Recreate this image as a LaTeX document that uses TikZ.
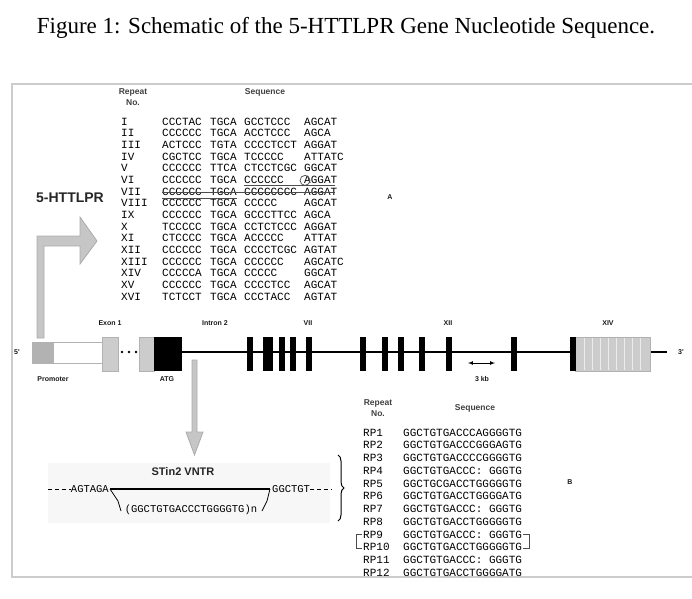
\documentclass[tikz,border=0pt]{standalone}
\usepackage{fontspec}
\setmainfont{Liberation Serif}
\newfontfamily\labf{Liberation Sans}
\newfontfamily\seqf{Liberation Mono}
\usetikzlibrary{decorations.pathreplacing}

\tikzset{
	lbl/.style={font=\labf\bfseries\fontsize{7}{8}\selectfont,text=black!90,inner sep=0pt},
	hdr/.style={font=\labf\bfseries\fontsize{8.5}{11}\selectfont,text=black!75,inner sep=0pt,align=center},
	seqtxt/.style={font=\seqf\fontsize{11}{12}\selectfont,text=black,inner sep=0pt,anchor=west,text height=6.5pt,text depth=0pt},
	vntrtxt/.style={font=\seqf\fontsize{10.5}{12}\selectfont,text=black,inner sep=0pt},
	bigarrow/.style={fill=gray!45,draw=gray!65,line width=0.8pt},
	frameline/.style={draw=gray!40,line width=1.5pt}
}

\begin{document}
\begin{tikzpicture}[x=1pt,y=-1pt,>=latex]
\useasboundingbox (0,0) rectangle (692,598);
\node (title) at (346,28) {\fontsize{23}{26}\selectfont Figure 1: Schematic of the 5-HTTLPR Gene Nucleotide Sequence.};
\draw[frameline] (692,84)--(12,84)--(12,577)--(692,577);

\node[hdr] (repA) at (133,97) {Repeat\\No.};
\node[hdr] (seqA) at (265,92) {Sequence};
\foreach \rn/\ca/\cb/\cc/\cd [count=\i] in {I/CCCTAC/TGCA/GCCTCCC/AGCAT,II/CCCCCC/TGCA/ACCTCCC/AGCA,
	III/ACTCCC/TGTA/CCCCTCCT/AGGAT,IV/CGCTCC/TGCA/TCCCCC/ATTATC,V/CCCCCC/TTCA/CTCCTCGC/GGCAT,
	VI/CCCCCC/TGCA/CCCCCC/AGGAT,VII/CCCCCC/TGCA/CCCCCCCC/AGGAT,VIII/CCCCCC/TGCA/CCCCC/AGCAT,
	IX/CCCCCC/TGCA/GCCCTTCC/AGCA,X/TCCCCC/TGCA/CCTCTCCC/AGGAT,XI/CTCCCC/TGCA/ACCCCC/ATTAT,
	XII/CCCCCC/TGCA/CCCCTCGC/AGTAT,XIII/CCCCCC/TGCA/CCCCCC/AGCATC,XIV/CCCCCA/TGCA/CCCCC/GGCAT,
	XV/CCCCCC/TGCA/CCCCTCC/AGCAT,XVI/TCTCCT/TGCA/CCCTACC/AGTAT}{
	\node[seqtxt] (num\i) at (121,{110.33+11.67*\i}) {\rn};
	\node[seqtxt] (ca\i) at (162,{110.33+11.67*\i}) {\ca};
	\node[seqtxt] (cb\i) at (210,{110.33+11.67*\i}) {\cb};
	\node[seqtxt] (cc\i) at (244,{110.33+11.67*\i}) {\cc};
	\node[seqtxt] (cd\i) at (304,{110.33+11.67*\i}) {\cd};
}
\draw[black!70,line width=0.7pt] ([yshift=-1.5pt]cc6.south west)--([xshift=-2pt,yshift=-1.5pt]cd6.south east);
\draw[black!70,line width=0.7pt] (ca7.west)--([xshift=-2pt]cd7.east);
\draw[black!70,line width=0.7pt] ([yshift=1.5pt]ca8.north west)--([yshift=1.5pt]cb8.north east);
\draw[black!70,line width=0.7pt] ([xshift=1pt]cd6.west) circle[radius=5];

\node[font=\labf\bfseries\fontsize{14}{15}\selectfont,text=black!85] (httlpr) at (70,198) {5-HTTLPR};
\node[lbl] (labA) at (390,197) {A};
\draw[bigarrow] (37,338)--(37,236)--(80,236)--(80,217)--(97,241)--(80,264)--(80,246)--(44,246)--(44,338)--cycle;

\node[lbl] (five) at (17,352) {5'};
\node[lbl] (three) at (681,352) {3'};
\draw[gray!60,line width=0.8pt] (32,342) rectangle (102,363);
\fill[gray!60] (32,342) rectangle (54,363);
\draw[fill=gray!40,draw=gray!60,line width=0.6pt] (102,337) rectangle (118,371);
\foreach \dx in {122,129,136}
	\fill (\dx,352) circle[radius=1.4];
\draw[fill=gray!40,draw=gray!60,line width=0.6pt] (139,337) rectangle (154,371);
\fill (154,337) rectangle (182,371);
\draw[line width=2.5pt] (182,352)--(667,352);
\foreach \cx/\w in {250/6,268/10,282/6,293/6,309/6,363/6,384.5/6,401/6,422/6,449/6,514/6}
	\fill (\cx-\w/2,337) rectangle (\cx+\w/2,371);
\fill[gray!40] (575,337) rectangle (650,371);
\foreach \sx in {584,592,...,644}
	\draw[gray!15,line width=0.8pt] (\sx,338)--(\sx,370);
\draw[gray!60,line width=0.6pt] (575,337) rectangle (650,371);
\fill (570,337) rectangle (576,371);

\node[lbl] (exon) at (110,323) {Exon 1};
\node[lbl] (intron) at (215,323) {Intron 2};
\node[lbl] (vii) at (308,323) {VII};
\node[lbl] (xii) at (448,323) {XII};
\node[lbl] (xiv) at (608,323) {XIV};
\node[lbl] (prom) at (53,379) {Promoter};
\node[lbl] (atg) at (167,379) {ATG};
\node[lbl] (kb) at (482,379) {3 kb};
\draw[<->,line width=0.7pt] (468,363)--(495,363);

\draw[bigarrow] (192,360)--(192,432)--(186,432)--(194.5,455)--(203,432)--(197,432)--(197,360)--cycle;

\fill[gray!6] (48,463) rectangle (330,523);
\node[font=\labf\bfseries\fontsize{11}{12}\selectfont,text=black!85] (vntr) at (183,472) {STin2 VNTR};
\node[vntrtxt,anchor=east] (agt) at (109,489) {AGTAGA};
\node[vntrtxt,anchor=west] (ggc) at (272,489) {GGCTGT};
\draw[line width=1pt,dash pattern=on 4pt off 3pt] (48,489)--(agt.west);
\draw[line width=1pt,dash pattern=on 4pt off 3pt] (ggc.east)--(332,489);
\draw[line width=2.2pt] (110,489)--(270,489);
\draw[line width=0.8pt] (110,489)--(118,501)--(121,511);
\draw[line width=0.8pt] (270,489)--(267,501)--(262,511);
\node[vntrtxt] (unit) at (191,510) {(GGCTGTGACCCTGGGGTG)n};
\draw[decorate,decoration={brace,amplitude=6pt},line width=1pt] (338,455)--(338,521);

\node[hdr] (repB) at (378,408) {Repeat\\No.};
\node[hdr] (seqB) at (475,408) {Sequence};
\foreach \s [count=\i] in {GGCTGTGACCCAGGGGTG,GGCTGTGACCCGGGAGTG,GGCTGTGACCCCGGGGTG,GGCTGTGACCC: GGGTG,
	GGCTGCGACCTGGGGGTG,GGCTGTGACCTGGGGATG,GGCTGTGACCC: GGGTG,GGCTGTGACCTGGGGGTG,
	GGCTGTGACCC: GGGTG,GGCTGTGACCTGGGGGTG,GGCTGTGACCC: GGGTG,GGCTGTGACCTGGGGATG}{
	\node[seqtxt] (rp\i) at (363,{420.27+12.73*\i}) {RP\i};
	\node[seqtxt] (sb\i) at (403,{420.27+12.73*\i}) {\s};
}
\draw[black!70,line width=0.8pt] ([xshift=-1pt,yshift=-3pt]rp9.north west)-|([xshift=-7pt,yshift=3pt]rp10.south west)--([xshift=-1pt,yshift=3pt]rp10.south west);
\draw[black!70,line width=0.8pt] ([xshift=1pt,yshift=-3pt]sb9.north east)-|([xshift=7pt,yshift=3pt]sb10.south east)--([xshift=1pt,yshift=3pt]sb10.south east);
\node[lbl] (labB) at (570,482) {B};
\end{tikzpicture}
\end{document}
